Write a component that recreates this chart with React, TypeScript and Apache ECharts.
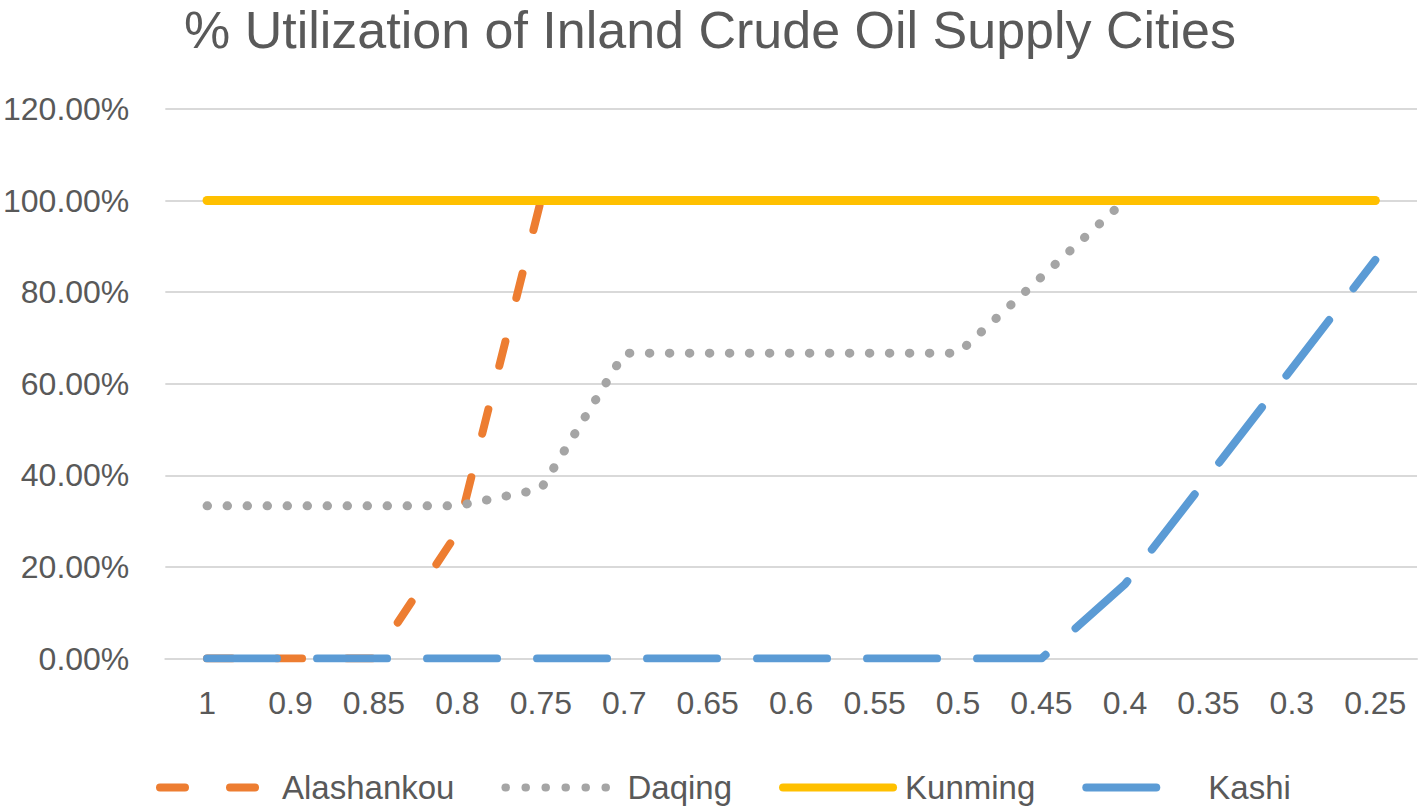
import React, { useEffect, useRef } from "react";
import * as echarts from "echarts";

const categories = ["1", "0.9", "0.85", "0.8", "0.75", "0.7", "0.65", "0.6", "0.55", "0.5", "0.45", "0.4", "0.35", "0.3", "0.25"];
const alashankou = [0, 0, 0, 27.5, 100, 100, 100, 100, 100, 100, 100, 100, 100, 100, 100];
const daqing = [33.33, 33.33, 33.33, 33.33, 37, 66.67, 66.67, 66.67, 66.67, 66.67, 83.33, 100, 100, 100, 100];
const kunming = [100, 100, 100, 100, 100, 100, 100, 100, 100, 100, 100, 100, 100, 100, 100];
const kashi = [0, 0, 0, 0, 0, 0, 0, 0, 0, 0, 0, 16.2, 39.7, 63.3, 87];
const titleText = "% Utilization of Inland Crude Oil Supply Cities";

const FONT = "'Liberation Sans', Arial, sans-serif";
const TXT = "#595959";

export default function App() {
  const ref = useRef<HTMLDivElement>(null);
  useEffect(() => {
    if (!ref.current) return;
    const chart = echarts.init(ref.current, undefined, { renderer: "svg" });
    const mk = (name: string, data: number[], color: string, width: number, type: any) => ({
      name,
      type: "line",
      data,
      symbol: "none",
      showSymbol: false,
      lineStyle: { color, width, type, cap: "round", join: "round" },
      itemStyle: { color },
    });
    chart.setOption({
      animation: false,
      backgroundColor: "#ffffff",
      title: {
        text: titleText,
        left: 184,
        top: 4,
        padding: 0,
        textStyle: { fontFamily: FONT, fontSize: 52, fontWeight: "normal", color: TXT },
      },
      legend: {
        left: 156,
        top: 771,
        padding: 0,
        itemWidth: 110,
        itemHeight: 34,
        itemGap: 47,
        itemStyle: { opacity: 0 },
        lineStyle: { width: 8, cap: "round" },
        textStyle: { fontFamily: FONT, fontSize: 33, color: TXT, padding: [0, 0, 0, 7] },
        data: ["Alashankou", "Daqing", "Kunming", "Kashi"],
      },
      grid: { left: 163, right: 1, top: 108.9, bottom: 149.5, containLabel: false },
      xAxis: {
        type: "category",
        data: categories,
        boundaryGap: true,
        axisLine: { show: true, lineStyle: { color: "#d9d9d9", width: 2 } },
        axisTick: { show: false },
        axisLabel: { fontFamily: FONT, fontSize: 32, color: TXT, margin: 28, interval: 0 },
      },
      yAxis: {
        type: "value",
        min: 0,
        max: 120,
        interval: 20,
        axisLine: { show: false },
        axisTick: { show: false },
        splitLine: { lineStyle: { color: "#d9d9d9", width: 2 } },
        axisLabel: {
          fontFamily: FONT,
          fontSize: 32,
          color: TXT,
          margin: 36,
          formatter: (v: number) => v.toFixed(2) + "%",
        },
      },
      series: [
        mk("Alashankou", alashankou, "#ED7D31", 8, [25, 45]),
        mk("Daqing", daqing, "#A5A5A5", 9, [0.5, 19.5]),
        mk("Kunming", kunming, "#FFC000", 9, "solid"),
        mk("Kashi", kashi, "#5B9BD5", 8, [70, 40]),
      ],
    });
    return () => chart.dispose();
  }, []);
  return (
    <div
      ref={ref}
      style={{ position: "absolute", left: 0, top: 0, width: 1418, height: 808, background: "#fff" }}
    />
  );
}
